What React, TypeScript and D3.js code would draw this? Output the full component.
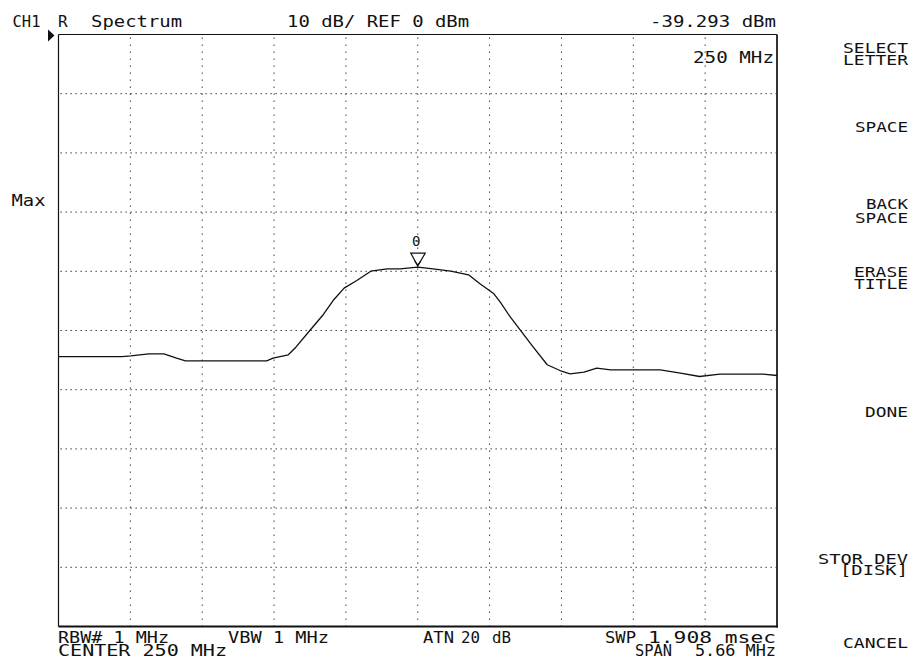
import React from "react";
import * as d3 from "d3";

// analyzer settings
const centerMHz = 250;
const spanMHz = 5.66;
const refDbm = 0;
const dbPerDiv = 10;
const divisions = 10;

// trace
const freqMHz = [247.17, 247.67, 247.74, 247.88, 248.0, 248.1, 248.17, 248.81, 248.86, 248.98, 249.04, 249.15, 249.25, 249.34, 249.42, 249.52, 249.63, 249.76, 249.86, 250.0, 250.12, 250.26, 250.4, 250.49, 250.6, 250.65, 250.73, 250.82, 250.91, 251.02, 251.12, 251.2, 251.31, 251.41, 251.52, 251.91, 252.07, 252.22, 252.38, 252.72, 252.83];
const levelDbm = [-54.4, -54.4, -54.27, -53.94, -53.94, -54.68, -55.12, -55.12, -54.68, -54.1, -52.82, -50.0, -47.47, -44.76, -42.85, -41.55, -39.98, -39.58, -39.58, -39.29, -39.58, -39.98, -40.59, -42.11, -43.8, -45.22, -47.75, -50.29, -52.82, -55.79, -56.76, -57.31, -57.04, -56.37, -56.64, -56.64, -57.21, -57.77, -57.38, -57.38, -57.6];

const markerMHz = 250;
const markerLabel = "0";

// screen annotations: [text, x, baseline, width]
const headerTexts: [string, number, number, number][] = [
  ["CH1", 12.5, 26.5, 28],
  ["R", 58, 26.5, 0],
  ["Spectrum", 91, 26.5, 91],
  ["10 dB/ REF 0 dBm", 287, 26.5, 182],
  ["-39.293 dBm", 650, 26.5, 126],
  ["250 MHz", 693, 63, 81],
  ["Max", 11.5, 206, 34],
];
const footerTexts: [string, number, number, number][] = [
  ["RBW# 1 MHz", 58, 642.5, 111],
  ["VBW 1 MHz", 228, 642.5, 101],
  ["ATN", 423, 642.5, 31],
  ["20", 461, 642.5, 19],
  ["dB", 492, 642.5, 19],
  ["SWP", 605, 642.5, 31],
  ["1.908 msec", 648, 642.5, 128],
  ["CENTER 250 MHz", 58, 656, 169],
  ["SPAN", 635, 656, 37],
  ["5.66 MHz", 695, 656, 81],
];
// soft keys: [text, baseline, width] right aligned
const softKeys: [string, number, number][] = [
  ["SELECT", 53, 65],
  ["LETTER", 64.5, 65],
  ["SPACE", 132, 53],
  ["BACK", 209, 42],
  ["SPACE", 222.5, 53],
  ["ERASE", 276.5, 54],
  ["TITLE", 289, 54],
  ["DONE", 417, 43],
  ["STOR DEV", 564, 90],
  ["[DISK]", 575, 68],
  ["CANCEL", 648, 65],
];

const W = 911;
const H = 664;
const plot = { left: 58.5, top: 34.5, right: 777, bottom: 626.5 };
const FONT = "'DejaVu Sans Mono', 'Liberation Mono', monospace";

function T({ t, x, y, w, size = 16, anchor = "start" }: { t: string; x: number; y: number; w: number; size?: number; anchor?: string }) {
  const extra = w > 0 ? { textLength: w, lengthAdjust: "spacingAndGlyphs" } : {};
  return (
    <text x={x} y={y} fontSize={size} fontFamily={FONT} textAnchor={anchor as any} fill="#111" {...extra}>
      {t}
    </text>
  );
}

export default function App() {
  const x = d3.scaleLinear()
    .domain([centerMHz - spanMHz / 2, centerMHz + spanMHz / 2])
    .range([plot.left, plot.right]);
  const y = d3.scaleLinear()
    .domain([refDbm, refDbm - dbPerDiv * divisions])
    .range([plot.top, plot.bottom]);

  const pts = freqMHz.map((f, i) => [f, levelDbm[i]] as [number, number]);
  const line = d3.line<[number, number]>().x(d => x(d[0])).y(d => y(d[1]));

  const vDivs = d3.range(1, divisions).map(i => x.domain()[0] + (spanMHz / divisions) * i);
  const hDivs = d3.range(1, divisions).map(i => refDbm - dbPerDiv * i);

  const mx = x(markerMHz);
  const my = y(levelDbm[freqMHz.indexOf(markerMHz)]);

  return (
    <div style={{ position: "fixed", left: 0, top: 0, background: "#fff" }}>
      <svg width={W} height={H} style={{ display: "block" }}>
        <rect width={W} height={H} fill="#fff" />

        {/* grid */}
        {vDivs.map((f, i) => (
          <line key={"v" + i} x1={x(f)} x2={x(f)} y1={plot.top + 3} y2={plot.bottom}
            stroke="#222" strokeWidth={1} strokeDasharray="1.3 5.7" />
        ))}
        {hDivs.map((d, i) => (
          <line key={"h" + i} x1={plot.left + 2} x2={plot.right} y1={y(d)} y2={y(d)}
            stroke="#222" strokeWidth={1} strokeDasharray="1.3 3.7" />
        ))}

        {/* frame */}
        <line x1={plot.left} x2={plot.right} y1={plot.top} y2={plot.top} stroke="#111" strokeWidth={1.2} />
        <line x1={plot.left} x2={plot.left} y1={plot.top} y2={plot.bottom} stroke="#111" strokeWidth={1.2} />
        <line x1={plot.right} x2={plot.right} y1={plot.top} y2={plot.bottom + 1} stroke="#333" strokeWidth={2} />
        <line x1={plot.left} x2={plot.right + 1} y1={plot.bottom} y2={plot.bottom} stroke="#111" strokeWidth={2} />

        {/* reference level arrow */}
        <path d={`M48,${plot.top - 5} L54.5,${plot.top + 1} L48,${plot.top + 7} Z`} fill="#111" />

        {/* trace */}
        <path d={line(pts) ?? ""} fill="none" stroke="#111" strokeWidth={1.3} strokeLinejoin="round" />

        {/* marker */}
        <path d={`M${mx - 7},${my - 14} L${mx + 7.5},${my - 14} L${mx},${my - 1} Z`} fill="#fff" stroke="#111" strokeWidth={1.2} />
        <path d={`M${mx - 3},${my - 6} L${mx},${my - 2} L${mx + 3},${my - 6}`} fill="none" stroke="#111" strokeWidth={1.2} />
        <T t={markerLabel} x={mx - 1.5} y={my - 21} w={0} size={14} anchor="middle" />

        {/* annotations */}
        {headerTexts.map(([t, tx, ty, w], i) => <T key={"hd" + i} t={t} x={tx} y={ty} w={w} />)}
        {footerTexts.map(([t, tx, ty, w], i) => <T key={"ft" + i} t={t} x={tx} y={ty} w={w} size={15} />)}
        {softKeys.map(([t, ty, w], i) => <T key={"sk" + i} t={t} x={908} y={ty} w={w} size={13.5} anchor="end" />)}
      </svg>
    </div>
  );
}
